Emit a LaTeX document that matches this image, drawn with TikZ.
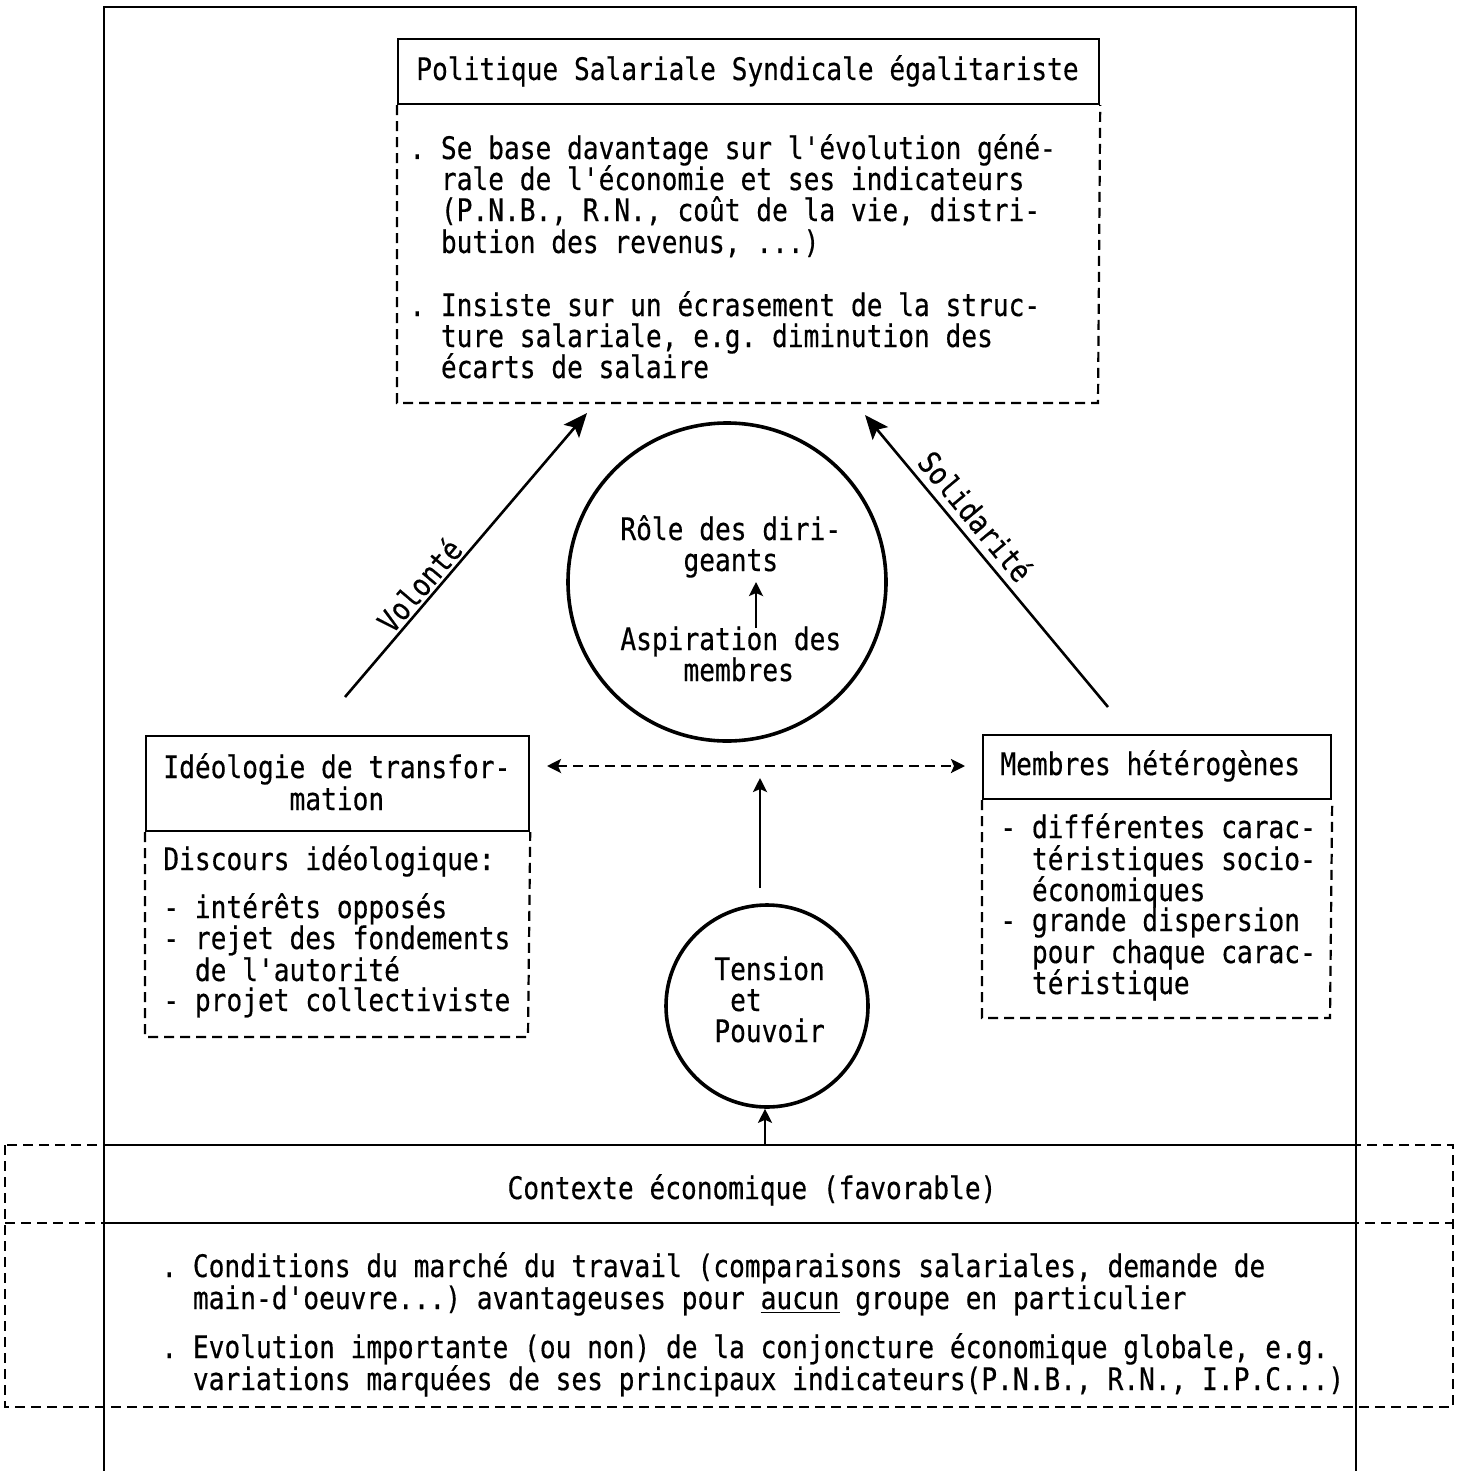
\documentclass[tikz,border=0pt]{standalone}
\usepackage{fontspec}
\newfontfamily\tw[FakeStretch=0.845, FakeBold=0.4]{DejaVu Sans Mono}
\usetikzlibrary{arrows.meta}
\frenchspacing
\begin{document}
\begin{tikzpicture}[x=0.5pt, y=-0.5pt,
  txt/.style={font=\tw\fontsize{15.5}{15.5}\selectfont, inner sep=0pt, anchor=base west},
  ctxt/.style={txt, anchor=base},
  frame/.style={draw, line width=1.1pt},
  solidbox/.style={draw, line width=1.1pt, inner sep=0pt, anchor=north west},
  dashbox/.style={draw, line width=1.1pt, dash pattern=on 5pt off 3pt},
  ring/.style={draw, circle, line width=1.8pt, inner sep=0pt},
  bigarrow/.style={line width=1.3pt, -{Stealth[length=12pt, width=10pt, inset=2.5pt]}},
  midarrow/.style={line width=1.3pt, -{Stealth[length=7pt, width=7pt, inset=1.5pt]}},
  dasharrow/.style={line width=1.3pt, dash pattern=on 5pt off 3pt,
    {Stealth[length=7pt, width=7pt, inset=1.5pt]}-{Stealth[length=7pt, width=7pt, inset=1.5pt]}}
]
\useasboundingbox (0,0) rectangle (1465,1471);
\fill[white] (0,0) rectangle (1465,1471);

% outer frame, open at the bottom
\draw[frame] (104,1471) -- (104,7) -- (1356,7) -- (1356,1471);

% ---------- top box: wage policy ----------
\node[solidbox, minimum width=350.5pt, minimum height=32.5pt] (toptitle) at (397,38) {};
\draw[dashbox] (toptitle.south west) -- (397,403) -- (1098,403) -- (toptitle.south east);
\node[ctxt] (tt) at (747.5,80) {Politique Salariale Syndicale égalitariste};
\node[txt] (t1) at (409,159) {. Se base davantage sur l'évolution géné-};
\node[txt] (t2) at (409,190) {\hphantom{xx}rale de l'économie et ses indicateurs};
\node[txt] (t3) at (409,221) {\hphantom{xx}(P.N.B., R.N., coût de la vie, distri-};
\node[txt] (t4) at (409,253) {\hphantom{xx}bution des revenus, ...)};
\node[txt] (t5) at (409,316) {. Insiste sur un écrasement de la struc-};
\node[txt] (t6) at (409,347) {\hphantom{xx}ture salariale, e.g. diminution des};
\node[txt] (t7) at (409,378) {\hphantom{xx}écarts de salaire};

% ---------- central circle ----------
\node[ring, minimum size=159pt] (role) at (727,582) {};
\node[txt] (r1) at (620,540) {Rôle des diri-};
\node[txt] (r2) at (620,571) {\hphantom{xxxx}geants};
\node[txt] (r3) at (620,650) {Aspiration des};
\node[txt] (r4) at (620,681) {\hphantom{xxxx}membres};
\coordinate (inA) at (756,628);
\coordinate (inB) at (756,582);
\draw[midarrow] (inA) -- (inB);

% ---------- left box: ideology ----------
\node[solidbox, minimum width=191.5pt, minimum height=47.5pt] (lefttitle) at (145,735) {};
\draw[dashbox] (lefttitle.south west) -- (145,1037) -- (528,1037) -- (lefttitle.south east);
\node[txt] (l0) at (163,778) {Idéologie de transfor-};
\node[txt] (l1) at (163,810) {\hphantom{xxxxxxxx}mation};
\node[txt] (l2) at (163,870) {Discours idéologique:};
\node[txt] (l3) at (163,918) {- intérêts opposés};
\node[txt] (l4) at (163,949) {- rejet des fondements};
\node[txt] (l5) at (163,981) {\hphantom{xx}de l'autorité};
\node[txt] (l6) at (163,1011) {- projet collectiviste};

% ---------- right box: members ----------
\node[solidbox, minimum width=174pt, minimum height=32pt] (righttitle) at (982,734) {};
\draw[dashbox] (righttitle.south west) -- (982,1018) -- (1330,1018) -- (righttitle.south east);
\node[txt] (m0) at (1000,775) {Membres hétérogènes};
\node[txt] (m1) at (1000,838) {- différentes carac-};
\node[txt] (m2) at (1000,870) {\hphantom{xx}téristiques socio-};
\node[txt] (m3) at (1000,901) {\hphantom{xx}économiques};
\node[txt] (m4) at (1000,931) {- grande dispersion};
\node[txt] (m5) at (1000,963) {\hphantom{xx}pour chaque carac-};
\node[txt] (m6) at (1000,994) {\hphantom{xx}téristique};

% ---------- tension circle ----------
\node[ring, minimum size=101pt] (tension) at (767,1006) {};
\node[txt] (p1) at (714,980) {Tension};
\node[txt] (p2) at (714,1011) {\hphantom{x}et};
\node[txt] (p3) at (714,1042) {Pouvoir};

% ---------- bottom box: economic context ----------
\draw[dashbox] (5,1145) rectangle (1453,1407);
\draw[dashbox] (5,1223) -- (1453,1223);
\draw[frame] (104,1145) -- (1356,1145);
\draw[frame] (104,1223) -- (1356,1223);
\node[ctxt] (ct) at (752,1199) {Contexte économique (favorable)};
\node[txt] (c1) at (161,1277) {. Conditions du marché du travail (comparaisons salariales, demande de};
\node[txt] (c2) at (161,1309) {\hphantom{xx}main-d'oeuvre...) avantageuses pour \underline{aucun} groupe en particulier};
\node[txt] (c3) at (161,1358) {. Evolution importante (ou non) de la conjoncture économique globale, e.g.};
\node[txt] (c4) at (161,1390) {\hphantom{xx}variations marquées de ses principaux indicateurs(P.N.B., R.N., I.P.C...)};

% ---------- connectors ----------
\coordinate (volA) at (345,697);
\coordinate (volB) at (587,413);
\coordinate (solA) at (1108,707);
\coordinate (solB) at (865,415);
\draw[bigarrow] (volA) -- (volB);
\draw[bigarrow] (solA) -- (solB);
\node[txt, anchor=center, rotate=49.6] (vol) at (419,585) {Volonté};
\node[txt, anchor=center, rotate=-50.2] (sol) at (976,516) {Solidarité};

\coordinate (dA) at (547,766);
\coordinate (dB) at (965,766);
\draw[dasharrow] (dA) -- (dB);

\coordinate (vA) at (760,888);
\coordinate (vB) at (760,778);
\draw[midarrow] (vA) -- (vB);

\coordinate (bA) at (765,1145);
\draw[midarrow] (bA) -- (tension.south -| bA);
\end{tikzpicture}
\end{document}
